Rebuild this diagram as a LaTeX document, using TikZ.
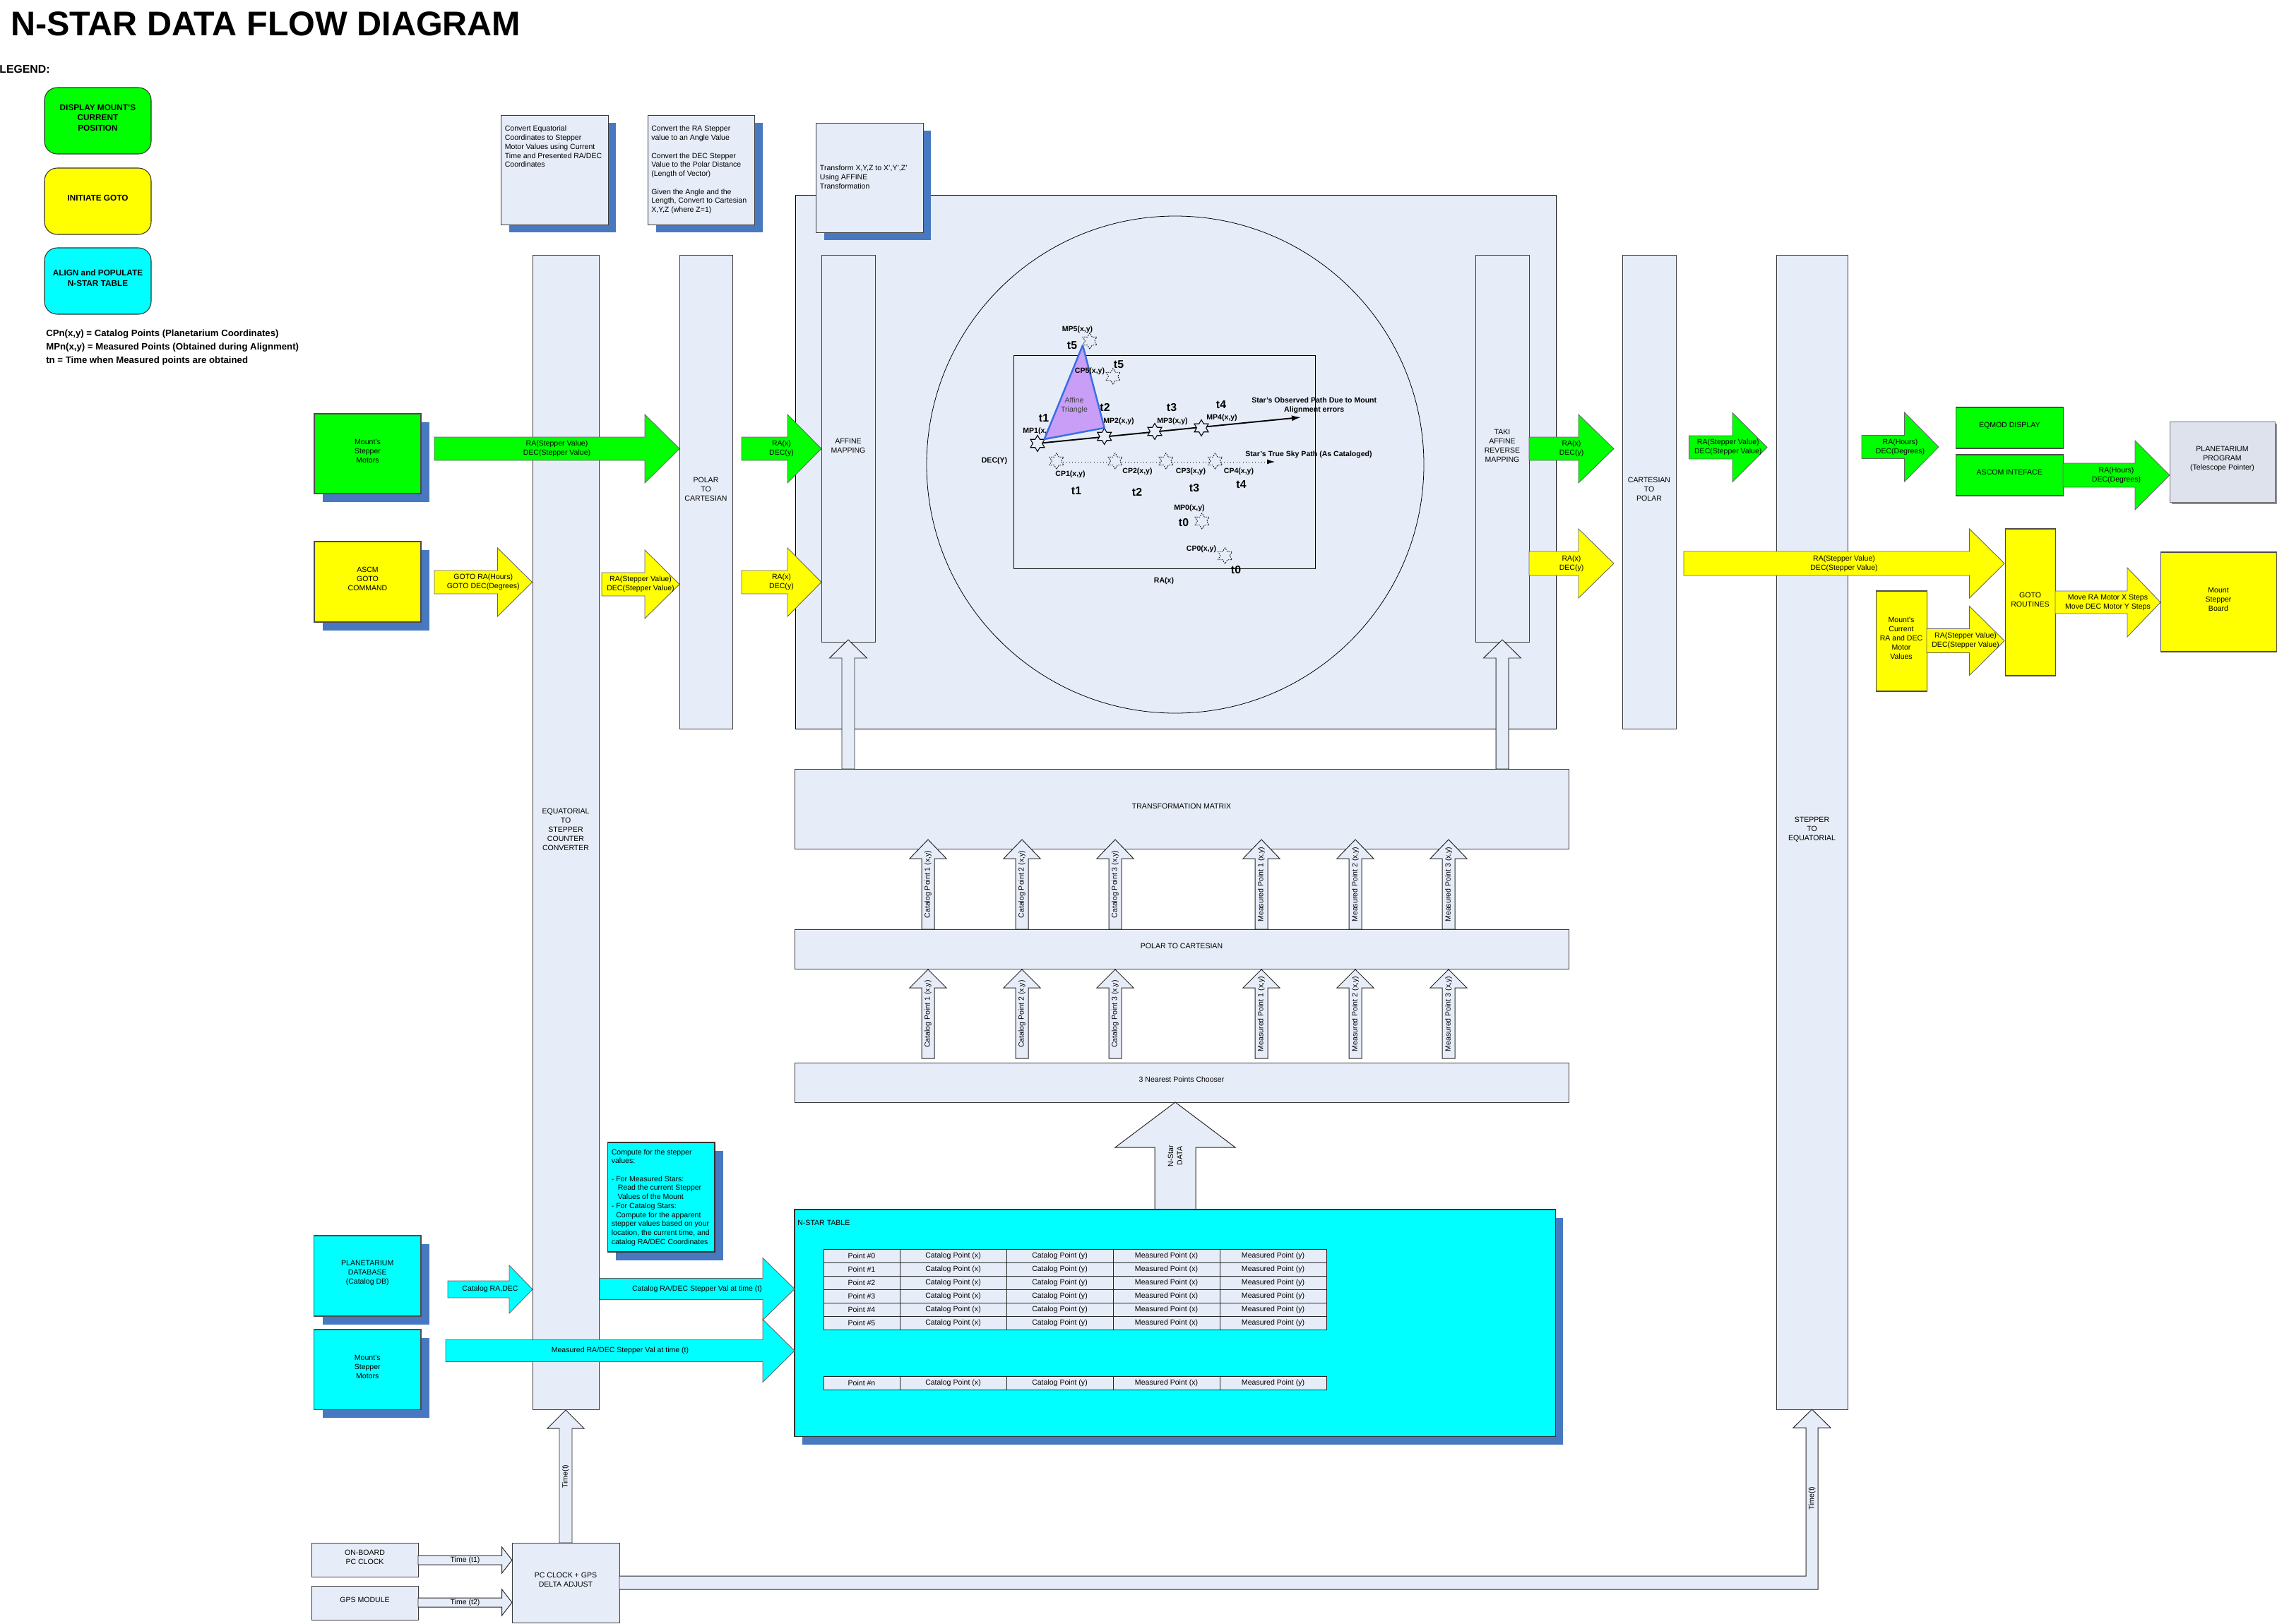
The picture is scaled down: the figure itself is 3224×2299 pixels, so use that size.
\documentclass[tikz,border=0pt]{standalone}
\usepackage{fontspec}
\setmainfont{Liberation Sans}
\usetikzlibrary{shapes.geometric,arrows.meta,fit,shadows}

\definecolor{paleblue}{RGB}{231,237,248}
\definecolor{shadowblue}{RGB}{72,121,192}
\definecolor{edgegray}{RGB}{60,60,60}
\definecolor{nsgreen}{RGB}{0,255,0}
\definecolor{nsyellow}{RGB}{255,255,0}
\definecolor{nscyan}{RGB}{0,255,255}
\definecolor{affinefill}{RGB}{201,158,247}
\definecolor{affineedge}{RGB}{58,110,230}

% block arrow pointing right: style, name, x start, x head, x tip, y mid, shaft half, head half, label
\newcommand{\harrow}[9]{%
  \draw[#1] (#3,#6-#7) -- (#4,#6-#7) -- (#4,#6-#8) -- (#5,#6) -- (#4,#6+#8) -- (#4,#6+#7) -- (#3,#6+#7) -- cycle;
  \node[arrlabel] (#2) at ({(#3+#5)/2},#6) {#9};
}
% block arrow pointing up: style, name, x mid, y bottom, y head, y tip, shaft half, head half, label
\newcommand{\varrow}[9]{%
  \draw[#1] (#3-#7,#4) -- (#3-#7,#5) -- (#3-#8,#5) -- (#3,#6) -- (#3+#8,#5) -- (#3+#7,#5) -- (#3+#7,#4) -- cycle;
  \node[arrlabel, rotate=90] (#2) at (#3,{(#4+#6)/2}) {#9};
}

\tikzset{
  every node/.style={font=\fontsize{6}{7.4}\selectfont, inner sep=0pt},
  colbox/.style={draw=edgegray, line width=0.55pt, fill=paleblue, align=center},
  notebox/.style={colbox, drop shadow={shadow xshift=2.2mm, shadow yshift=-2.2mm, fill=shadowblue, opacity=1}},
  shadowed/.style={drop shadow={shadow xshift=2.4mm, shadow yshift=-2.4mm, fill=shadowblue, opacity=1}},
  greenbox/.style={draw=black!70, line width=0.6pt, fill=nsgreen, align=center},
  yellowbox/.style={draw=black!70, line width=0.6pt, fill=nsyellow, align=center},
  cyanbox/.style={draw=black!70, line width=0.6pt, fill=nscyan, align=center},
  legendbox/.style={draw=black!80, line width=0.6pt, rounded corners=3.6mm, align=center,
    font=\bfseries\fontsize{6.7}{8.2}\selectfont},
  notetext/.style={anchor=north west, align=left, font=\fontsize{6}{7.25}\selectfont},
  arrlabel/.style={align=center},
  garrow/.style={fill=nsgreen, draw=black!60, line width=0.5pt},
  yarrow/.style={fill=nsyellow, draw=black!60, line width=0.5pt},
  carrow/.style={fill=nscyan, draw=black!60, line width=0.5pt},
  hollowarrow/.style={fill=paleblue, draw=black!85, line width=0.55pt},
  cell/.style={draw=black!85, fill=paleblue, line width=0.55pt, minimum height=3.8mm,
    anchor=north west, outer sep=0pt},
  mstar/.style={star, star points=6, star point ratio=1.73, minimum size=4.6mm,
    draw=black, line width=0.6pt, fill=paleblue},
  cstar/.style={mstar, dash pattern=on 1pt off 0.8pt, line width=0.45pt},
  dlabel/.style={font=\bfseries\fontsize{6}{7.2}\selectfont, align=center},
  tlabel/.style={font=\bfseries\fontsize{9}{10}\selectfont},
}

\begin{document}
\begin{tikzpicture}[x=0.2mm, y=-0.2mm]
\path[use as bounding box, fill=white] (0,0) rectangle (3224,2299);

% title and legend
\node[anchor=base west, font=\bfseries\fontsize{27.6}{30}\selectfont] (title) at (15,50) {N-STAR DATA FLOW DIAGRAM};
\node[anchor=base west, font=\bfseries\fontsize{9}{10}\selectfont] (legend) at (-1,103) {LEGEND:};
\node[legendbox, fill=nsgreen, fit={(63,124) (214,218)}] (leg-display) {DISPLAY MOUNT'S\\CURRENT\\POSITION};
\node[legendbox, fill=nsyellow, fit={(63,238) (214,332)}] (leg-goto) {INITIATE GOTO};
\node[legendbox, fill=nscyan, fit={(63,351) (214,445)}] (leg-align) {ALIGN and POPULATE\\N-STAR TABLE};
\node[anchor=north west, align=left, font=\bfseries\fontsize{7.5}{10.8}\selectfont] (legend-key) at (65,467)
  {CPn(x,y) = Catalog Points (Planetarium Coordinates)\\MPn(x,y) = Measured Points (Obtained during Alignment)\\tn = Time when Measured points are obtained};

% affine area
\node[colbox, draw=black, line width=0.45pt, fit={(1126,276) (2203,1032)}] (affine-area) {};

% notes on top
\node[notebox, fit={(709.5,163) (861,318)}] (note-eq) {};
\node[notetext] (note-eq-text) at (714.5,178) {Convert Equatorial\\Coordinates to Stepper\\Motor Values using Current\\Time and Presented RA/DEC\\Coordinates};
\node[notebox, fit={(917.6,163) (1068.5,318)}] (note-polar) {};
\node[notetext] (note-polar-text) at (922,178) {Convert the RA Stepper\\value to an Angle Value\\[7.25pt]Convert the DEC Stepper\\Value to the Polar Distance\\(Length of Vector)\\[7.25pt]Given the Angle and the\\Length, Convert to Cartesian\\X,Y,Z (where Z=1)};
\node[notebox, fit={(1155.6,174) (1307,329)}] (note-affine) {};
\node[notetext] (note-affine-text) at (1160.6,234) {Transform X,Y,Z to X',Y',Z'\\Using AFFINE\\Transformation};

% columns
\node[colbox, fit={(754,361) (848,1996)}] (eq) {EQUATORIAL\\TO\\STEPPER\\COUNTER\\CONVERTER};
\node[colbox, fit={(962,361) (1037,1032)}] (polar) {POLAR\\TO\\CARTESIAN};
\node[colbox, fit={(1163,361) (1239,909)}] (affine) {AFFINE\\MAPPING};
\node[colbox, fit={(2089,361) (2165,909)}] (taki) {TAKI\\AFFINE\\REVERSE\\MAPPING};
\node[colbox, fit={(2297,361) (2373,1032)}] (cart) {CARTESIAN\\TO\\POLAR};
\node[colbox, fit={(2515,361) (2616,1996)}] (stepper) {STEPPER\\TO\\EQUATORIAL};

% sky view
\draw[line width=0.45pt] (1664,658) circle [radius=70.4mm];
\draw[line width=0.45pt] (1435,503) rectangle (1862,805);
\node[dlabel] (dec-axis) at (1408,653) {DEC(Y)};
\node[dlabel] (ra-axis) at (1648,823) {RA(x)};
\coordinate (obs-start) at (1474,627.5);
\coordinate (obs-end) at (1842,591);
\coordinate (true-start) at (1496,654);
\coordinate (true-end) at (1805,654);
\draw[line width=1.1pt, -{Latex[length=2.6mm,width=1.6mm]}] (obs-start) -- (obs-end);
\draw[line width=0.5pt, dotted, -{Latex[length=2.2mm,width=1.4mm]}] (true-start) -- (true-end);
\node[dlabel, anchor=west] (lbl-mp1) at (1448,611) {MP1(x,y)};
\node[mstar] (mp1) at (1469,628) {};
\node[mstar] (mp2) at (1563.7,618) {};
\node[mstar] (mp3) at (1635,611) {};
\node[mstar] (mp4) at (1701,606) {};
\node[cstar] (mp5) at (1543,483) {};
\node[cstar] (mp0) at (1702,738) {};
\node[cstar] (cp1) at (1496,653) {};
\node[cstar] (cp2) at (1579,653) {};
\node[cstar] (cp3) at (1651,653) {};
\node[cstar] (cp4) at (1720.6,653) {};
\node[cstar] (cp5) at (1576,533) {};
\node[cstar] (cp0) at (1734.5,787) {};
\draw[fill=affinefill, draw=affineedge, line width=1.4pt, line join=round] (1478.7,622) -- (1533,489) -- (1563.7,606) -- cycle;
\node[align=center, text=black!75] (affine-tri) at (1521,574.5) {Affine\\Triangle};
\node[dlabel] (lbl-mp5) at (1525.5,467) {MP5(x,y)};
\node[tlabel] (lbl-t5a) at (1518,489) {t5};
\node[tlabel] (lbl-t5b) at (1584,516) {t5};
\node[dlabel] (lbl-cp5) at (1543,526) {CP5(x,y)};
\node[tlabel] (lbl-t2a) at (1564.5,577) {t2};
\node[tlabel] (lbl-t1a) at (1478,592) {t1};
\node[dlabel] (lbl-mp2) at (1584,597) {MP2(x,y)};
\node[tlabel] (lbl-t3a) at (1659,577) {t3};
\node[dlabel] (lbl-mp3) at (1660,597) {MP3(x,y)};
\node[tlabel] (lbl-t4a) at (1729,573) {t4};
\node[dlabel] (lbl-mp4) at (1730,592) {MP4(x,y)};
\node[dlabel] (lbl-obs) at (1860.7,574) {Star's Observed Path Due to Mount\\Alignment errors};
\node[dlabel] (lbl-true) at (1853,644) {Star's True Sky Path (As Cataloged)};
\node[dlabel] (lbl-cp1) at (1515.5,672) {CP1(x,y)};
\node[dlabel] (lbl-cp2) at (1610.5,668) {CP2(x,y)};
\node[dlabel] (lbl-cp3) at (1686,668) {CP3(x,y)};
\node[dlabel] (lbl-cp4) at (1754,668) {CP4(x,y)};
\node[tlabel] (lbl-t1b) at (1524,695) {t1};
\node[tlabel] (lbl-t2b) at (1610,697) {t2};
\node[tlabel] (lbl-t3b) at (1691,691) {t3};
\node[tlabel] (lbl-t4b) at (1757.5,686) {t4};
\node[dlabel] (lbl-mp0) at (1684,720) {MP0(x,y)};
\node[tlabel] (lbl-t0a) at (1676,740) {t0};
\node[dlabel] (lbl-cp0) at (1701,778) {CP0(x,y)};
\node[tlabel] (lbl-t0b) at (1750,807) {t0};

% matrix chain
\node[colbox, fit={(1125,1089) (2221,1202)}] (matrix) {TRANSFORMATION MATRIX};
\node[colbox, fit={(1125,1316) (2221,1372)}] (p2c) {POLAR TO CARTESIAN};
\node[colbox, fit={(1125,1505) (2221,1561)}] (nearest) {3 Nearest Points Chooser};
\varrow{hollowarrow}{up-affine}{1201}{1089}{932}{906}{9}{26.5}{}
\varrow{hollowarrow}{up-taki}{2127}{1089}{932}{906}{9}{26.5}{}
\foreach \x/\kind/\n in {1314/Catalog/1, 1447/Catalog/2, 1579/Catalog/3, 1786/Measured/1, 1919/Measured/2, 2051/Measured/3} {
  \varrow{hollowarrow}{tm-\kind-\n}{\x}{1316}{1216}{1189}{9}{26}{\kind\ Point \n\ (x,y)}
  \varrow{hollowarrow}{pc-\kind-\n}{\x}{1499}{1399}{1373}{9}{26}{\kind\ Point \n\ (x,y)}
}
\varrow{hollowarrow}{up-nstar}{1664}{1713}{1625}{1561}{29}{85}{N-Star\\DATA}

% sources and sinks
\node[greenbox, shadowed, fit={(445,586) (596,699)}] (motors) {Mount's\\Stepper\\Motors};
\node[yellowbox, shadowed, fit={(445,767) (596,881)}] (ascm) {ASCM\\GOTO\\COMMAND};
\node[greenbox, fit={(2769.5,577) (2921,635)}] (eqmod) {EQMOD DISPLAY};
\node[greenbox, fit={(2769.5,644) (2921,702)}] (ascom) {ASCOM INTEFACE};
\node[colbox, draw=black!55, fill=paleblue!90!gray, drop shadow={shadow xshift=0.6mm, shadow yshift=-0.6mm, fill=black!45, opacity=1}, fit={(3072,597) (3221,711)}] (planet) {PLANETARIUM\\PROGRAM\\(Telescope Pointer)};
\node[yellowbox, fit={(2839,749) (2910,957)}] (goto) {GOTO\\ROUTINES};
\node[yellowbox, fit={(2656,837) (2728,979)}] (current) {Mount's\\Current\\RA and DEC\\Motor\\Values};
\node[yellowbox, fit={(3059,782) (3223,923)}] (board) {Mount\\Stepper\\Board};

% green flow
\harrow{garrow}{g-motors}{615}{913}{962}{635.5}{16.5}{48.5}{RA(Stepper Value)\\DEC(Stepper Value)}
\harrow{garrow}{g-polar}{1050}{1115}{1163}{635.5}{16.5}{48.5}{RA(x)\\DEC(y)}
\harrow{garrow}{g-taki}{2165}{2235}{2285}{635.5}{16.5}{48.5}{RA(x)\\DEC(y)}
\harrow{garrow}{g-cart}{2391.5}{2453}{2502}{633.5}{16.5}{49}{RA(Stepper Value)\\DEC(Stepper Value)}
\harrow{garrow}{g-stepper}{2636}{2696.5}{2745}{633}{16.5}{49}{RA(Hours)\\DEC(Degrees)}
\harrow{garrow}{g-ascom}{2921}{3023}{3072}{673}{17}{49}{RA(Hours)\\DEC(Degrees)}

% yellow flow
\harrow{yarrow}{y-ascm}{615}{704.5}{753.5}{824.5}{16.5}{48.5}{GOTO RA(Hours)\\GOTO DEC(Degrees)}
\harrow{yarrow}{y-eq}{852}{913}{962}{827.5}{16.5}{48.5}{RA(Stepper Value)\\DEC(Stepper Value)}
\harrow{yarrow}{y-polar}{1050}{1115}{1163}{824.5}{16.5}{48.5}{RA(x)\\DEC(y)}
\harrow{yarrow}{y-taki}{2165}{2235}{2285}{798}{17}{49}{RA(x)\\DEC(y)}
\harrow{yarrow}{y-cart}{2384}{2788.5}{2838}{798}{17}{49}{RA(Stepper Value)\\DEC(Stepper Value)}
\harrow{yarrow}{y-current}{2728}{2788.5}{2838}{907.5}{17}{49}{RA(Stepper Value)\\DEC(Stepper Value)}
\harrow{yarrow}{y-goto}{2910}{3012}{3059}{853}{16}{49}{Move RA Motor X Steps\\Move DEC Motor Y Steps}

% n-star table
\node[cyanbox, draw=black!80, drop shadow={shadow xshift=2.2mm, shadow yshift=-2.4mm, fill=shadowblue, opacity=1}, fit={(1125,1713) (2202,2034)}] (nstar) {};
\node[anchor=west] (nstar-title) at (1129,1732) {N-STAR TABLE};
\foreach \r/\ry in {0/1769, 1/1788, 2/1807, 3/1826, 4/1845, 5/1864, n/1949} {
  \node[cell, minimum width=21.6mm] (pt-\r) at (1166,\ry) {Point \#\r};
  \node[cell, minimum width=30.2mm] (cx-\r) at (pt-\r.north east) {Catalog Point (x)};
  \node[cell, minimum width=30.2mm] (cy-\r) at (cx-\r.north east) {Catalog Point (y)};
  \node[cell, minimum width=30.2mm] (mx-\r) at (cy-\r.north east) {Measured Point (x)};
  \node[cell, minimum width=30.2mm] (my-\r) at (mx-\r.north east) {Measured Point (y)};
}
\node[cyanbox, draw=black!80, drop shadow={shadow xshift=2.3mm, shadow yshift=-2.3mm, fill=shadowblue, opacity=1}, fit={(860.6,1618) (1012,1773)}] (compute) {};
\node[notetext] (compute-text) at (865.5,1627) {Compute for the stepper\\values:\\[7.25pt]- For Measured Stars:\\\hspace*{1.8mm}Read the current Stepper\\\hspace*{1.8mm}Values of the Mount\\- For Catalog Stars:\\\hspace*{1.3mm}Compute for the apparent\\stepper values based on your\\location, the current time, and\\catalog RA/DEC Coordinates};
\node[cyanbox, shadowed, fit={(444.5,1750) (596,1864)}] (catalog-db) {PLANETARIUM\\DATABASE\\(Catalog DB)};
\node[cyanbox, shadowed, fit={(444.5,1883) (596,1996)}] (motors-align) {Mount's\\Stepper\\Motors};

% cyan flow
\harrow{carrow}{c-pdb}{634}{721}{754}{1826}{12}{34}{Catalog RA,DEC}
\harrow{carrow}{c-catalog}{849}{1080}{1125}{1825.5}{15}{44}{Catalog RA/DEC Stepper Val at time (t)}
\harrow{carrow}{c-measured}{631}{1080}{1125}{1913}{15.5}{44.5}{Measured RA/DEC Stepper Val at time (t)}

% time sources
\node[colbox, fit={(441,2185) (592,2233)}] (pc-clock) {ON-BOARD\\PC CLOCK};
\node[colbox, fit={(441,2246) (592,2294)}] (gps) {GPS MODULE};
\node[colbox, fit={(725,2185) (877,2298)}] (delta) {PC CLOCK + GPS\\DELTA ADJUST};
\harrow{hollowarrow}{time-t1}{592}{710.6}{725}{2209.5}{6.5}{18.5}{Time (t1)}
\harrow{hollowarrow}{time-t2}{592}{710.6}{725}{2269.5}{6.5}{18.5}{Time (t2)}
\varrow{hollowarrow}{time-eq}{801}{2185}{2023}{1997}{9}{26}{Time(t)}
\draw[hollowarrow] (877,2232) -- (2557,2232) -- (2557,2022) -- (2539,2022) -- (2565.5,1996)
  -- (2592,2022) -- (2574,2022) -- (2574,2251) -- (877,2251) -- cycle;
\node[arrlabel, rotate=90] (time-stepper) at (2565.5,2122) {Time(t)};
\end{tikzpicture}
\end{document}
